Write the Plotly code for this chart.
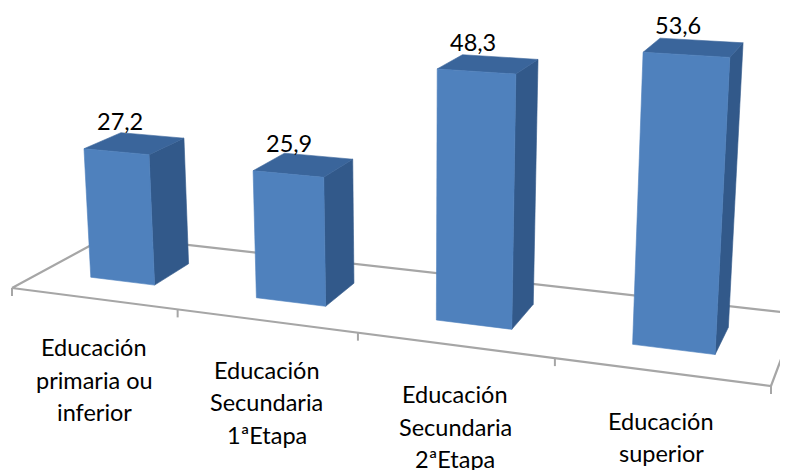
import numpy as np
import plotly.graph_objects as go

category_lines = [["Educación", "primaria ou", "inferior"],
                  ["Educación", "Secundaria", "1ªEtapa"],
                  ["Educación", "Secundaria", "2ªEtapa"],
                  ["Educación", "superior"]]
values = [27.2, 25.9, 48.3, 53.6]
value_labels = ["27,2", "25,9", "48,3", "53,6"]

FRONT, SIDE, TOP, GRID = "#4F81BD", "#32598A", "#3A659B", "#A6A6A6"
FONT = "Lato"
FONT_SIZE = 23.5

# Camera: the picture positions of the floor corners and the vertical vanishing point
FLOOR_CORNERS = {(0, 0): (12, 288), (4, 0): (771, 386), (4, 1): (798, 314), (0, 1): (108, 236)}
VERTICAL_VP = (415, 6400)
Z_GAIN = -0.0460 / 53.6     # perspective gain per unit of value
BAR_X = (0.305, 0.70)       # bar span inside its category
BAR_D = (0.30, 0.69)        # bar span across the floor depth
PAGE_OFFSET = 8             # the page body margin moves the plot by this many pixels

A, b = [], []
for (u, v), (px, py) in FLOOR_CORNERS.items():
    A.append([u, v, 1, 0, 0, 0, -u * px, -v * px]); b.append(px)
    A.append([0, 0, 0, u, v, 1, -u * py, -v * py]); b.append(py)
h = np.linalg.solve(np.array(A, float), np.array(b, float))
H = np.array([[h[0], h[1], h[2]], [h[3], h[4], h[5]], [h[6], h[7], 1.0]])
ref_w = (H @ np.array([3.3, 0.3, 1.0]))[2]
ZCOL = Z_GAIN * ref_w * np.array([VERTICAL_VP[0], VERTICAL_VP[1], 1.0])


def project(u, d, z=0.0):
    p = H @ np.array([u, d, 1.0]) + ZCOL * z
    return p[0] / p[2], p[1] / p[2]


def add_poly(fig, pts, color):
    xs, ys = zip(*pts)
    fig.add_trace(go.Scatter(x=list(xs) + [xs[0]], y=list(ys) + [ys[0]], mode="lines", fill="toself",
                             fillcolor=color, line=dict(color=color, width=0.6), hoverinfo="skip"))


def add_line(fig, pts, width=2.2):
    xs, ys = zip(*pts)
    fig.add_trace(go.Scatter(x=list(xs), y=list(ys), mode="lines", line=dict(color=GRID, width=width),
                             hoverinfo="skip"))


fig = go.Figure()
n = len(values)

# floor outline and ticks
add_line(fig, [project(0, 0), project(n, 0), project(n, 1), project(0, 1), project(0, 0)])
for i in range(n + 1):
    px, py = project(i, 0)
    add_line(fig, [(px, py), (px, py + 8)], width=2)

annotations = []
for i, v in enumerate(values):
    x0, x1 = i + BAR_X[0], i + BAR_X[1]
    d0, d1 = BAR_D
    add_poly(fig, [project(x1, d0), project(x1, d1), project(x1, d1, v), project(x1, d0, v)], SIDE)
    add_poly(fig, [project(x0, d0, v), project(x1, d0, v), project(x1, d1, v), project(x0, d1, v)], TOP)
    add_poly(fig, [project(x0, d0), project(x1, d0), project(x1, d0, v), project(x0, d0, v)], FRONT)

    lx, ly = project(i + 0.5, 0.5, v)
    annotations.append(dict(x=lx, y=ly, text=value_labels[i], showarrow=False, xanchor="center", yanchor="middle",
                            xshift=-15, yshift=22, font=dict(family=FONT, size=FONT_SIZE, color="black")))
    cx, cy = project(i + 0.5, 0)
    for k, line in enumerate(category_lines[i]):
        annotations.append(dict(x=cx, y=cy, text=line, showarrow=False, xanchor="center", yanchor="middle",
                                xshift=1, yshift=-(49 + 32.5 * k), font=dict(family=FONT, size=FONT_SIZE, color="black")))

fig.update_layout(
    width=788, height=470, margin=dict(l=0, r=0, t=0, b=0), showlegend=False,
    paper_bgcolor="white", plot_bgcolor="white", annotations=annotations,
    xaxis=dict(visible=False, range=[PAGE_OFFSET, 788 + PAGE_OFFSET], fixedrange=True),
    yaxis=dict(visible=False, range=[470 + PAGE_OFFSET, PAGE_OFFSET], fixedrange=True),
)
fig.write_html("out.html")
